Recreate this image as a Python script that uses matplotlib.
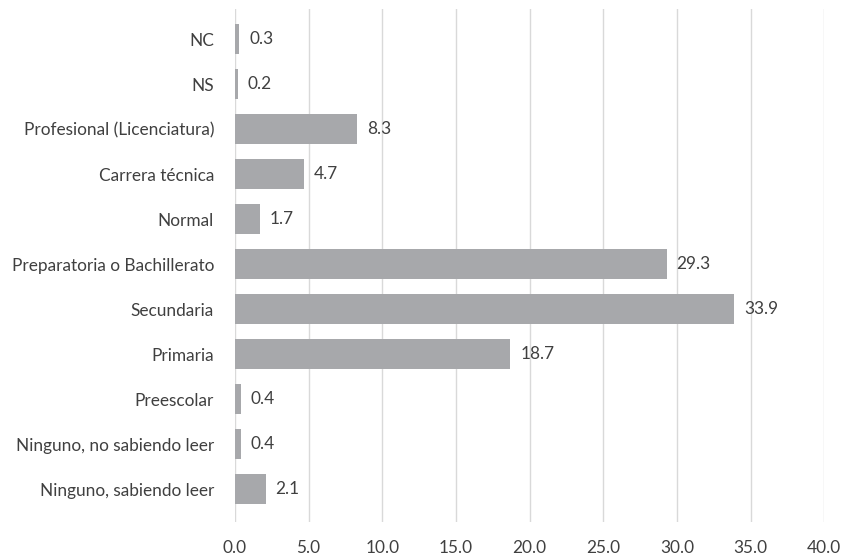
import matplotlib.pyplot as plt

categories = ['Ninguno, sabiendo leer', 'Ninguno, no sabiendo leer', 'Preescolar',
              'Primaria', 'Secundaria', 'Preparatoria o Bachillerato', 'Normal',
              'Carrera técnica', 'Profesional (Licenciatura)', 'NS', 'NC']
values = [2.1, 0.4, 0.4, 18.7, 33.9, 29.3, 1.7, 4.7, 8.3, 0.2, 0.3]
xticks = [0, 5, 10, 15, 20, 25, 30, 35, 40]

plt.rcParams['font.family'] = ['Lato', 'DejaVu Sans']
text_color = '#404040'
fs = 12.4

fig = plt.figure(figsize=(8.42, 5.57), dpi=100)
ax = fig.add_axes([0.279, 0.063, 0.700, 0.921])

pos = list(range(len(categories)))
ax.barh(pos, values, height=0.667, color='#a7a8ab', zorder=2)

for p, v in zip(pos, values):
    ax.annotate(f'{v:.1f}', (v, p), xytext=(7, 0), textcoords='offset points',
                va='center', ha='left', fontsize=fs, color=text_color)

ax.set_xlim(0, 40)
ax.set_ylim(-0.73, 10.67)
ax.set_xticks(xticks)
ax.set_xticklabels([f'{t:.1f}' for t in xticks], fontsize=fs, color=text_color)
ax.set_yticks(pos)
ax.set_yticklabels(categories, fontsize=fs, color=text_color)
ax.tick_params(axis='both', length=0)
ax.tick_params(axis='x', pad=13)
ax.tick_params(axis='y', pad=15)
ax.grid(axis='x', color='#d9d9d9', linewidth=1, zorder=0)
for s in ax.spines.values():
    s.set_visible(False)

fig.savefig('out.png', dpi=100)
